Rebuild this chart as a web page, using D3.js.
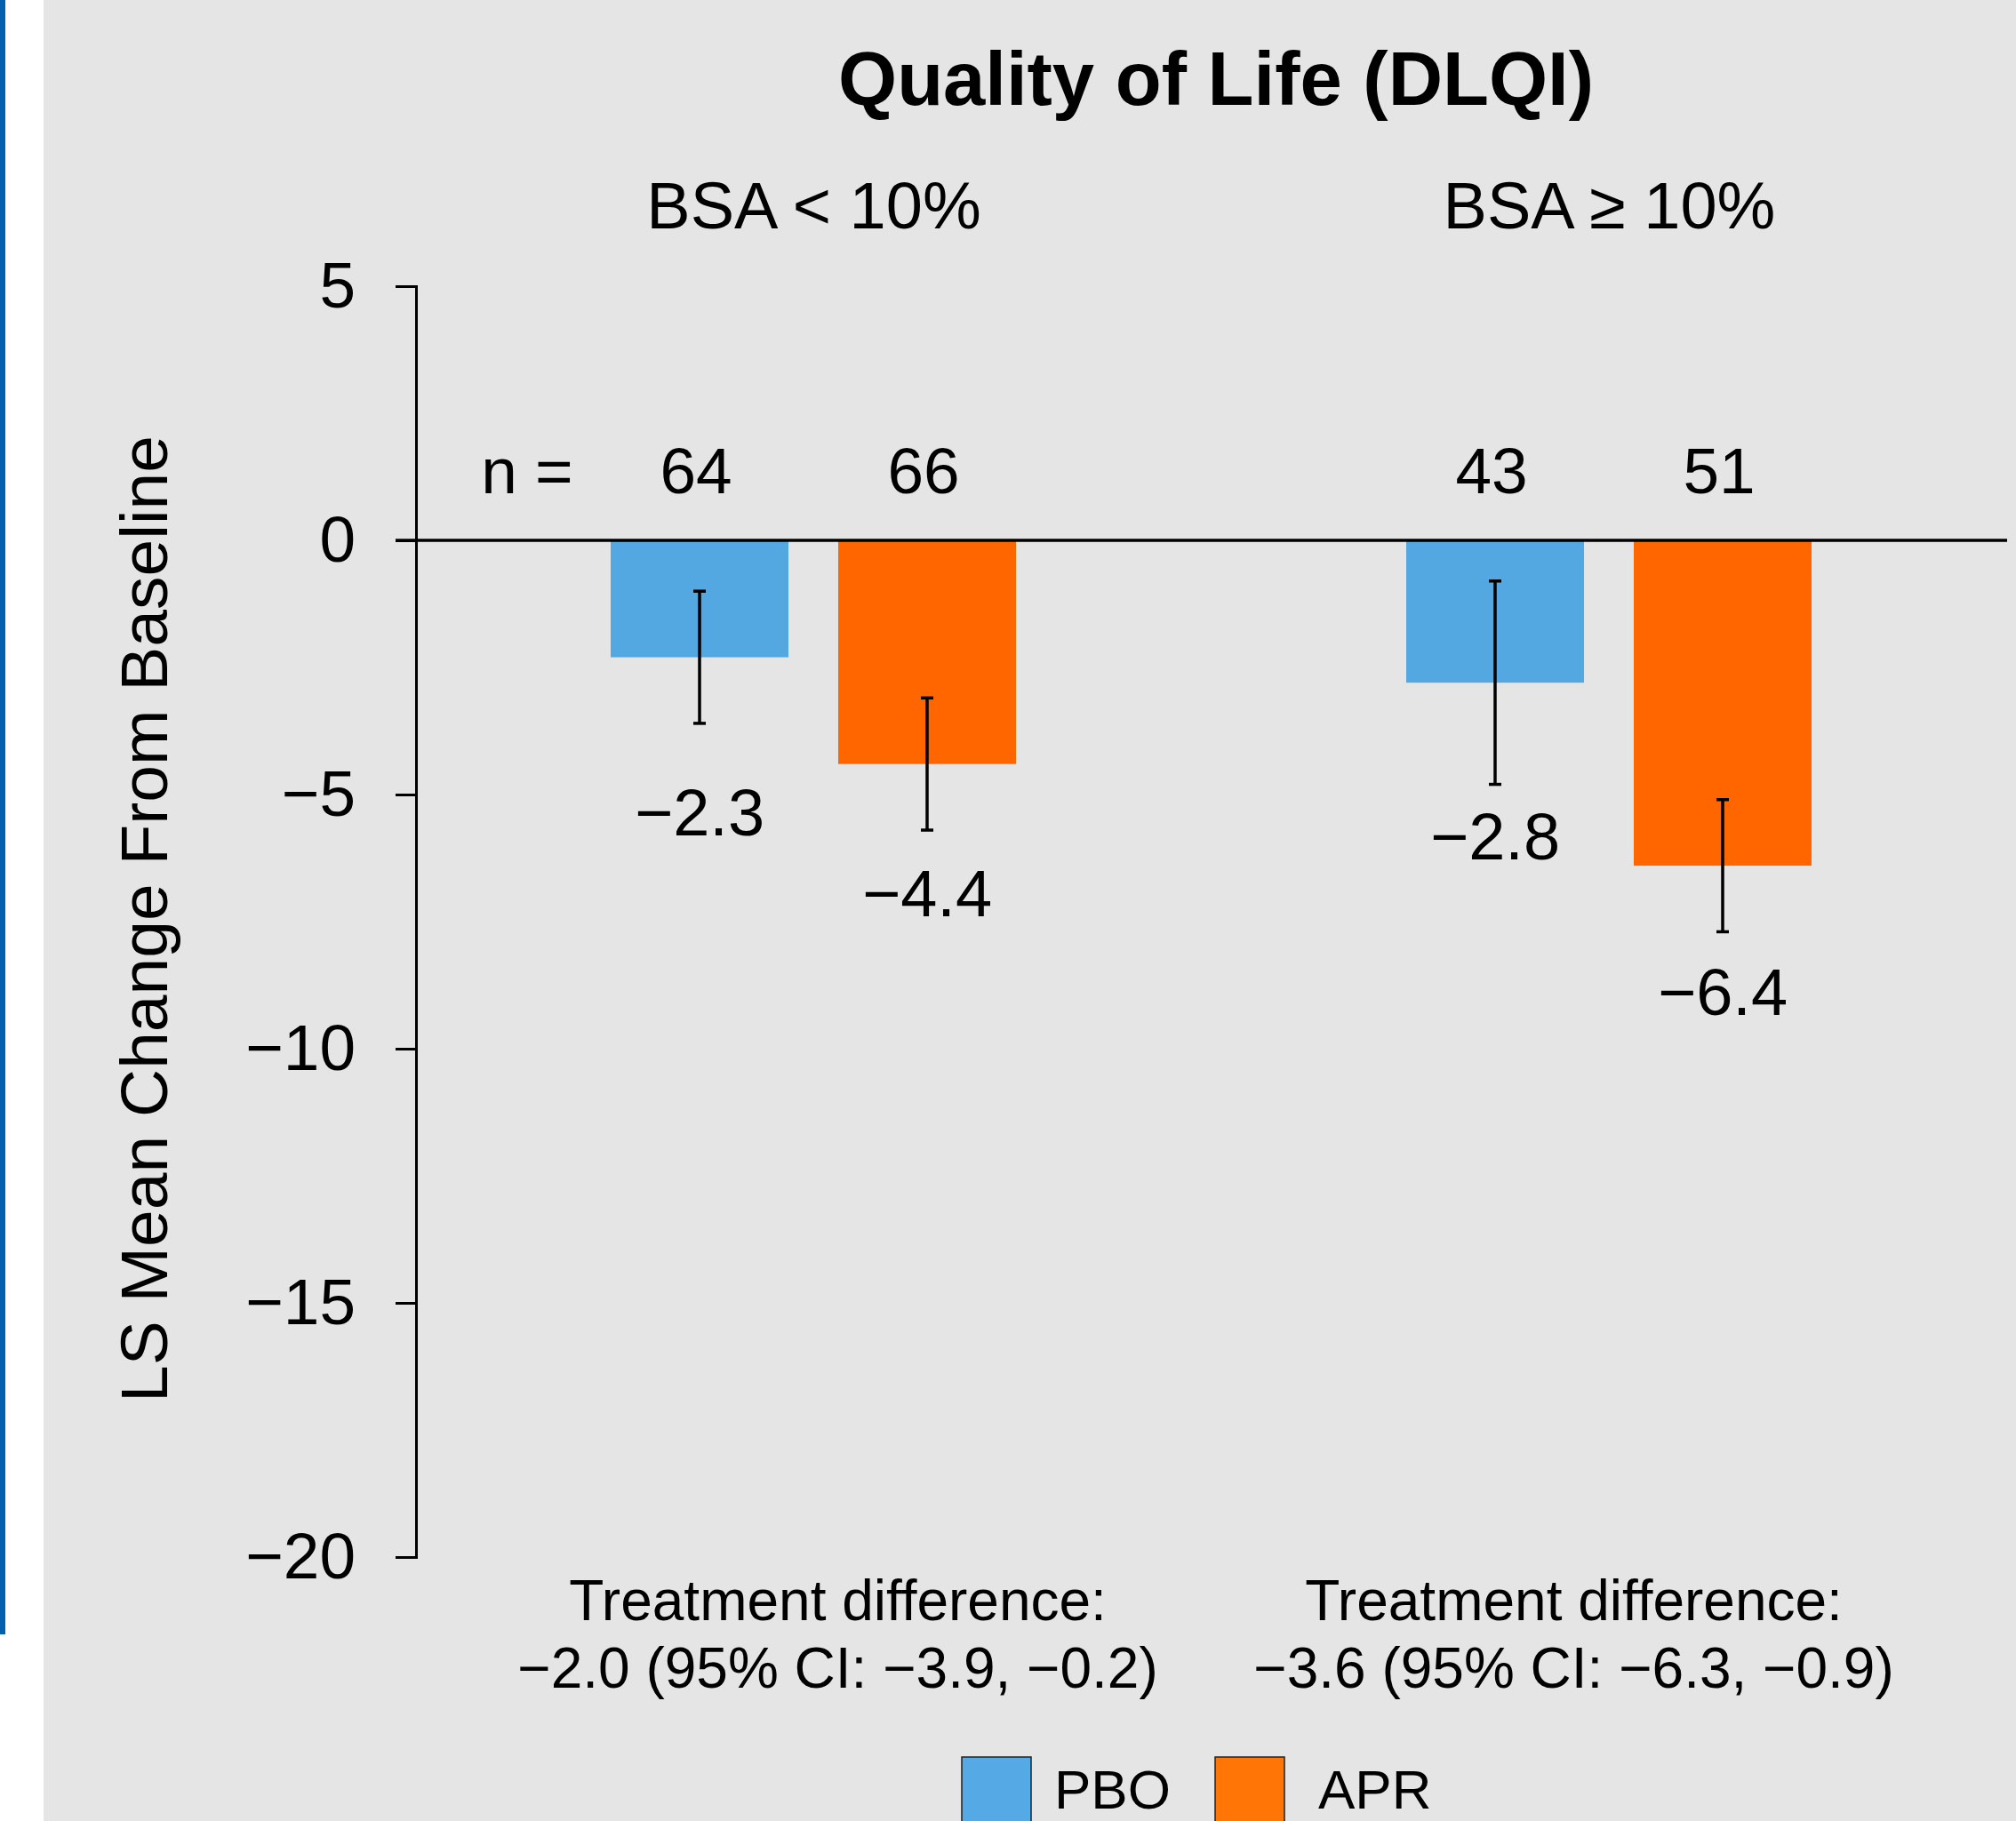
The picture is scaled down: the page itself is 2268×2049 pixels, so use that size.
<!DOCTYPE html>
<html>
<head>
<meta charset="utf-8">
<script src="https://cdn.jsdelivr.net/npm/d3@7"></script>
<style>
  html, body { margin: 0; padding: 0; background: #ffffff; }
  svg { display: block; font-family: "Liberation Sans", Arial, Helvetica, sans-serif; }
</style>
</head>
<body>
<svg id="chart" width="2268" height="2049"></svg>
<script>
// ---- data ----
const groups = ["BSA < 10%", "BSA \u2265 10%"];
const series = ["PBO", "APR"];
const pboValues = [-2.3, -2.8];
const aprValues = [-4.4, -6.4];
const pboErrHigh = [-1.0, -0.8];
const pboErrLow = [-3.6, -4.8];
const aprErrHigh = [-3.1, -5.1];
const aprErrLow = [-5.7, -7.7];
const pboN = [64, 43];
const aprN = [66, 51];
const yTicks = [5, 0, -5, -10, -15, -20];
const treatmentLines = [
  ["Treatment difference:", "\u22122.0 (95% CI: \u22123.9, \u22120.2)"],
  ["Treatment difference:", "\u22123.6 (95% CI: \u22126.3, \u22120.9)"]
];

// ---- layout ----
const W = 2268, H = 2049;
const colors = { PBO: "#53a8e2", APR: "#ff6600" };
const legendColors = { PBO: "#55aae5", APR: "#ff7607" };
const labelGap = { PBO: [126, 84], APR: [97, 94] };
const treatDx = [27, -40];

const svg = d3.select("#chart");

// backgrounds
svg.append("rect").attr("x", 0).attr("y", 0).attr("width", W).attr("height", H).attr("fill", "#ffffff");
svg.append("rect").attr("x", 49).attr("y", 0).attr("width", W - 49).attr("height", H).attr("fill", "#e5e5e5");
svg.append("rect").attr("x", 0).attr("y", 0).attr("width", 6).attr("height", 1839).attr("fill", "#0460ac");

const y = d3.scaleLinear().domain([-20, 5]).range([1752, 322]);
const x0 = d3.scaleBand().domain(groups).range([468, 2258]).padding(0);
const x1 = d3.scaleBand().domain(series).range([219, 675]).paddingInner(0.21875).paddingOuter(0);

const rows = [];
groups.forEach((g, i) => {
  rows.push({ g, i, s: "PBO", v: pboValues[i], hi: pboErrHigh[i], lo: pboErrLow[i], n: pboN[i] });
  rows.push({ g, i, s: "APR", v: aprValues[i], hi: aprErrHigh[i], lo: aprErrLow[i], n: aprN[i] });
});
const cx = d => x0(d.g) + x1(d.s) + x1.bandwidth() / 2;

// bars
svg.append("g").selectAll("rect").data(rows).join("rect")
  .attr("x", d => x0(d.g) + x1(d.s))
  .attr("width", x1.bandwidth())
  .attr("y", d => y(Math.max(0, d.v)))
  .attr("height", d => Math.abs(y(d.v) - y(0)))
  .attr("fill", d => colors[d.s]);

// y axis
const axis = svg.append("g").attr("transform", `translate(${x0.range()[0]},0)`)
  .call(d3.axisLeft(y).tickValues(yTicks).tickSize(23).tickSizeOuter(23).tickPadding(45).tickFormat(d3.format("d")));
axis.select(".domain").attr("stroke", "#000").attr("stroke-width", 3);
axis.selectAll(".tick line").attr("stroke", "#000").attr("stroke-width", 3);
axis.selectAll(".tick text").attr("fill", "#000").attr("font-size", 73)
  .attr("font-family", "'Liberation Sans', Arial, sans-serif");

// zero line
svg.append("line")
  .attr("x1", x0.range()[0] - 23).attr("x2", x0.range()[1])
  .attr("y1", y(0)).attr("y2", y(0))
  .attr("stroke", "#000").attr("stroke-width", 3.5);

// error bars
const eb = svg.append("g").attr("stroke", "#000").attr("stroke-width", 3.5);
eb.selectAll("line.v").data(rows).join("line").attr("class", "v")
  .attr("x1", cx).attr("x2", cx).attr("y1", d => y(d.hi)).attr("y2", d => y(d.lo));
eb.selectAll("line.t").data(rows).join("line").attr("class", "t")
  .attr("x1", d => cx(d) - 7).attr("x2", d => cx(d) + 7).attr("y1", d => y(d.hi)).attr("y2", d => y(d.hi));
eb.selectAll("line.b").data(rows).join("line").attr("class", "b")
  .attr("x1", d => cx(d) - 7).attr("x2", d => cx(d) + 7).attr("y1", d => y(d.lo)).attr("y2", d => y(d.lo));

// value labels
const fmt = d3.format(".1f");
svg.append("g").selectAll("text").data(rows).join("text")
  .attr("x", cx)
  .attr("y", d => y(d.lo) + labelGap[d.s][d.i])
  .attr("text-anchor", "middle")
  .attr("font-size", 74)
  .attr("fill", "#000")
  .text(d => fmt(d.v));

// n labels
const nY = y(0) - 53;
svg.append("text").attr("x", x0.range()[0] + 125).attr("y", nY)
  .attr("text-anchor", "middle").attr("font-size", 73).attr("fill", "#000").text("n =");
svg.append("g").selectAll("text").data(rows).join("text")
  .attr("x", d => cx(d) - 4)
  .attr("y", nY)
  .attr("text-anchor", "middle")
  .attr("font-size", 73)
  .attr("fill", "#000")
  .text(d => d.n);

// title
svg.append("text").attr("x", 1368).attr("y", 118)
  .attr("text-anchor", "middle").attr("font-size", 85).attr("font-weight", "bold")
  .attr("fill", "#000").text("Quality of Life (DLQI)");

// group headers
svg.append("g").selectAll("text").data(groups).join("text")
  .attr("x", d => x0(d) + x0.bandwidth() / 2)
  .attr("y", 257)
  .attr("text-anchor", "middle").attr("font-size", 74).attr("fill", "#000")
  .text(d => d);

// y axis title
svg.append("text")
  .attr("transform", "translate(188,1034) rotate(-90)")
  .attr("text-anchor", "middle").attr("font-size", 75).attr("fill", "#000")
  .text("LS Mean Change From Baseline");

// treatment difference
groups.forEach((g, i) => {
  const tx = x0(g) + x0.bandwidth() / 2 + treatDx[i];
  const t = svg.append("text")
    .attr("x", tx)
    .attr("text-anchor", "middle").attr("font-size", 64).attr("fill", "#000");
  t.append("tspan").attr("x", tx).attr("y", 1823).text(treatmentLines[i][0]);
  t.append("tspan").attr("x", tx).attr("y", 1899).text(treatmentLines[i][1]);
});

// legend
const legX = [1082, 1367];
const legTextDx = [104, 116];
const leg = svg.append("g").selectAll("g").data(series).join("g")
  .attr("transform", (d, i) => `translate(${legX[i]},1977)`);
leg.append("rect").attr("x", 0).attr("y", 0).attr("width", 78).attr("height", 78)
  .attr("fill", d => legendColors[d]).attr("stroke", "#222").attr("stroke-width", 1.5);
leg.append("text").attr("x", (d, i) => legTextDx[i]).attr("y", 58)
  .attr("font-size", 62).attr("fill", "#000").text(d => d);
</script>
</body>
</html>
